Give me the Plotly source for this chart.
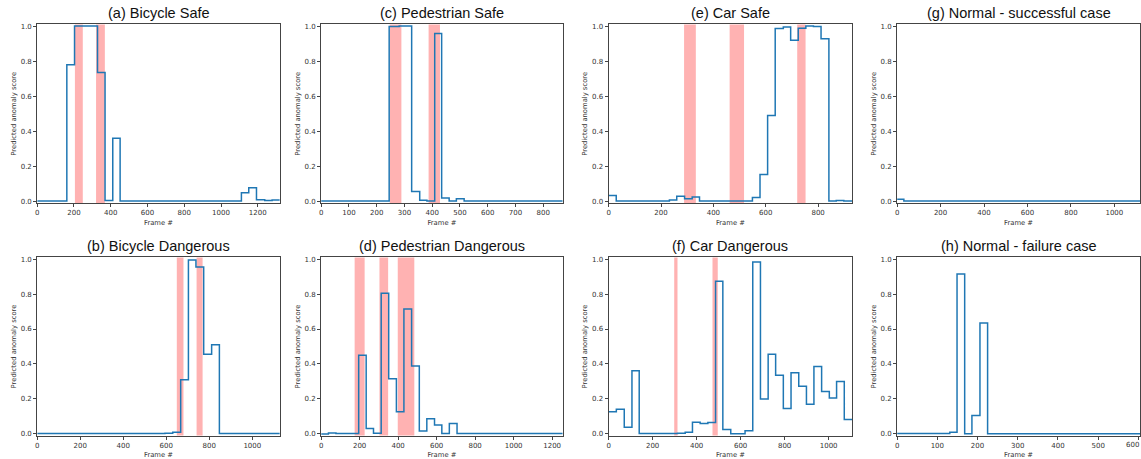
import plotly.graph_objects as go
from plotly.subplots import make_subplots

# ---------------- data (step segments: start frames + final end, scores per segment) -------------
a_frames = [0, 161, 203, 328, 369, 411, 451, 1111, 1151, 1193, 1238, 1278, 1320]
a_scores = [0.002, 0.78, 1.0, 0.735, 0.005, 0.36, 0.003, 0.05, 0.078, 0.01, 0.005, 0.008]
a_spans = [(205, 248), (320, 368)]

c_frames = [0, 245, 281, 326, 355, 381, 409, 434, 461, 487, 515, 870]
c_scores = [0.002, 0.998, 1.0, 0.057, 0.007, 0.003, 0.958, 0.02, 0.003, 0.016, 0.002]
c_spans = [(247, 289), (387, 428)]

e_frames = [0, 29, 232, 260, 290, 319, 347, 549, 578, 607, 636, 667, 695, 724, 753, 782, 811, 841, 869, 898, 930]
e_scores = [0.034, 0.002, 0.008, 0.029, 0.015, 0.025, 0.002, 0.023, 0.154, 0.49, 0.986,
            0.995, 0.919, 0.988, 1.0, 0.998, 0.928, 0.003, 0.005, 0.002]
e_spans = [(288, 333), (462, 517), (720, 752)]

g_frames = [0, 31, 1118]
g_scores = [0.013, 0.002]
g_spans = []

b_frames = [0, 594, 630, 667, 703, 738, 774, 811, 847, 1128]
b_scores = [0.002, 0.003, 0.01, 0.31, 0.995, 0.955, 0.455, 0.51, 0.002]
b_spans = [(649, 680), (741, 769)]

d_frames = [0, 38, 77, 195, 234, 272, 312, 351, 391, 430, 470, 510, 549, 589, 627, 666, 706, 1255]
d_scores = [0.0, 0.005, 0.002, 0.45, 0.031, 0.003, 0.805, 0.316, 0.127, 0.714, 0.389,
            0.017, 0.086, 0.051, 0.002, 0.06, 0.002]
d_spans = [(174, 226), (303, 348), (398, 484)]

f_frames = [0, 35, 71, 106, 139, 313, 348, 381, 416, 451, 486, 519, 555, 620, 655, 690, 725,
            759, 794, 829, 864, 899, 933, 968, 1003, 1036, 1071, 1107]
f_scores = [0.126, 0.141, 0.038, 0.361, 0.002, 0.004, 0.01, 0.066, 0.06, 0.065, 0.874, 0.025,
            0.001, 0.018, 0.983, 0.199, 0.455, 0.336, 0.145, 0.35, 0.273, 0.169, 0.385, 0.242,
            0.205, 0.30, 0.083]
f_spans = [(298, 313), (472, 496)]

h_frames = [0, 131, 149, 168, 186, 206, 225, 604]
h_scores = [0.002, 0.01, 0.915, 0.001, 0.105, 0.635, 0.001]
h_spans = []

titles = ["(a) Bicycle Safe", "(c) Pedestrian Safe", "(e) Car Safe", "(g) Normal - successful case",
          "(b) Bicycle Dangerous", "(d) Pedestrian Dangerous", "(f) Car Dangerous", "(h) Normal - failure case"]
panels = [(a_frames, a_scores, a_spans, 200), (c_frames, c_scores, c_spans, 100),
          (e_frames, e_scores, e_spans, 200), (g_frames, g_scores, g_spans, 200),
          (b_frames, b_scores, b_spans, 200), (d_frames, d_scores, d_spans, 200),
          (f_frames, f_scores, f_spans, 200), (h_frames, h_scores, h_spans, 100)]

# ---------------- layout geometry (pixels) ----------------
W, H = 1141, 459
col_px = [(35.3, 278.3), (319.7, 561.7), (607.7, 851.7), (896.7, 1140.0)]
row_px = [(22.7, 203.3), (258.3, 438.3)]

fig = make_subplots(rows=2, cols=4)
tick_font = dict(family="DejaVu Sans", size=7, color="#333")
label_font = dict(family="DejaVu Sans", size=6.8, color="#333")

for i, (frames, scores, spans, dt) in enumerate(panels):
    r, c = i // 4, i % 4
    n = i + 1
    xs = list(frames)
    ys = list(scores) + [scores[-1]]
    fig.add_trace(go.Scatter(x=xs, y=ys, mode="lines", line=dict(color="#1f77b4", width=1.5, shape="hv"),
                             showlegend=False, hoverinfo="skip"), row=r + 1, col=c + 1)
    xref = "x" if n == 1 else f"x{n}"
    yref = "y" if n == 1 else f"y{n}"
    for (s0, s1) in spans:
        fig.add_shape(type="rect", xref=xref, yref=f"{yref} domain", x0=s0, x1=s1, y0=0, y1=1,
                      fillcolor="rgba(255,0,0,0.3)", line=dict(width=0), layer="below")
    x0p, x1p = col_px[c]
    top, bot = row_px[r]
    xd = [x0p / W, x1p / W]
    yd = [1 - bot / H, 1 - top / H]
    ax_common = dict(showgrid=False, zeroline=False, showline=True, linecolor="#444", linewidth=1,
                     mirror=True, ticks="outside", ticklen=3, tickcolor="#444", tickfont=tick_font)
    fig.update_xaxes(domain=xd, range=[0, frames[-1]], dtick=dt, tick0=0,
                     title=dict(text="Frame #", font=label_font, standoff=3), **ax_common,
                     row=r + 1, col=c + 1)
    fig.update_yaxes(domain=yd, range=[-0.0094, 1.0094], dtick=0.2, tick0=0, tickformat=".1f",
                     title=dict(text="Predicted anomaly score", font=label_font, standoff=3), **ax_common,
                     row=r + 1, col=c + 1)
    fig.add_annotation(text=titles[i], xref="paper", yref="paper", x=(xd[0] + xd[1]) / 2,
                       y=yd[1] + 11.5 / H, xanchor="center", yanchor="middle", showarrow=False,
                       font=dict(family="Liberation Sans", size=14.5, color="#111"))

# tick label at the right edge of panel (h), kept inside the page
fig.add_annotation(text="600", xref="paper", yref="y8 domain", x=1.0, y=0, xanchor="right",
                   yanchor="top", yshift=-3, showarrow=False, font=tick_font)

fig.update_layout(width=W, height=H, margin=dict(l=0, r=0, t=0, b=0),
                  plot_bgcolor="white", paper_bgcolor="white")
fig.write_html("out.html")
